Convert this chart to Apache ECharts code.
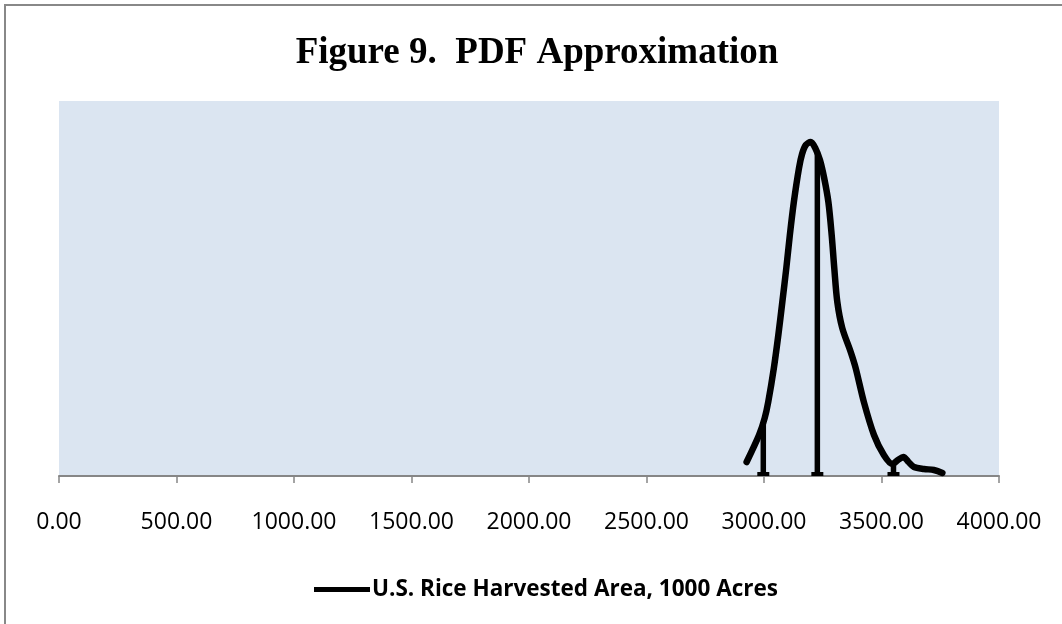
<!DOCTYPE html>
<html>
<head>
<meta charset="utf-8">
<script src="https://cdn.jsdelivr.net/npm/echarts@6/dist/echarts.min.js"></script>
<style>
html,body{margin:0;padding:0;background:#fff;}
#c{width:1062px;height:624px;}
</style>
</head>
<body>
<div id="c"></div>
<script>
// Curve: x values (1000 acres) and density values
const curveX = [2926, 2979, 3003, 3018, 3042, 3061, 3078, 3095, 3110, 3127, 3149, 3162, 3178, 3199, 3218, 3238, 3256, 3274, 3288, 3299, 3312, 3333, 3369, 3390, 3425, 3468, 3510, 3546, 3570, 3593, 3615, 3638, 3681, 3723, 3759];
const curveY = [0.000168, 0.000492, 0.000696, 0.000888, 0.001296, 0.001692, 0.002088, 0.002496, 0.002892, 0.003288, 0.003696, 0.003864, 0.003972, 0.004008, 0.003936, 0.003792, 0.003576, 0.003288, 0.002892, 0.002496, 0.002088, 0.001776, 0.001488, 0.001296, 0.000888, 0.000492, 0.000252, 0.000144, 0.000192, 0.000228, 0.000168, 0.000108, 0.000084, 0.000072, 0.000036];
// Drop lines (x position, height)
const dropX = [2997, 3227, 3551];
const dropY = [0.000636, 0.00388, 0.000168];
const tickMin = 0, tickMax = 4000, tickStep = 500;
const yMax = 0.0045;
const seriesName = 'U.S. Rice Harvested Area, 1000 Acres';
const titleText = 'Figure 9.  PDF Approximation';

const chart = echarts.init(document.getElementById('c'), null, {renderer: 'canvas'});

const curveData = curveX.map((x, i) => [x, curveY[i]]);
const dropSeries = dropX.map((x, i) => ({
  type: 'line',
  name: 'drop' + i,
  data: [
    {value: [x, 0], symbol: 'rect', symbolSize: [12, 4], symbolOffset: [0, -2]},
    {value: [x, dropY[i]], symbol: 'none'}
  ],
  showSymbol: true,
  lineStyle: {color: '#000', width: 5.5},
  itemStyle: {color: '#000'},
  silent: true,
  z: 3
}));

chart.setOption({
  animation: false,
  title: {
    text: titleText,
    left: 532,
    textAlign: 'center',
    top: 30,
    textStyle: {fontFamily: 'Liberation Serif', fontWeight: 'bold', fontSize: 37, color: '#000'}
  },
  graphic: [{
    type: 'rect',
    shape: {x: 5, y: 5, width: 1200, height: 800},
    style: {fill: 'none', stroke: '#888', lineWidth: 2},
    silent: true
  }],
  legend: {
    data: [{name: seriesName, icon: 'rect'}],
    left: 309,
    top: 573,
    itemWidth: 56,
    itemHeight: 5,
    itemGap: 0,
    textStyle: {fontFamily: 'Open Sans', fontWeight: 'bold', fontSize: 22.5, color: '#000', padding: [0, 0, 0, -3]}
  },
  grid: {
    left: 59, right: 63, top: 101, bottom: 148,
    show: true, backgroundColor: '#dbe5f1', borderWidth: 0
  },
  xAxis: {
    type: 'value',
    min: tickMin, max: tickMax, interval: tickStep,
    axisLine: {show: true, lineStyle: {color: '#868686', width: 2}},
    axisTick: {show: true, length: 7, inside: false, lineStyle: {color: '#868686', width: 1.5}},
    splitLine: {show: false},
    axisLabel: {
      margin: 35,
      fontFamily: 'Open Sans', fontSize: 23, color: '#000',
      formatter: v => v.toFixed(2)
    }
  },
  yAxis: {
    type: 'value', min: 0, max: yMax,
    show: false, splitLine: {show: false}
  },
  series: [{
    type: 'line',
    name: seriesName,
    data: curveData,
    smooth: 0.3,
    showSymbol: false,
    symbol: 'none',
    lineStyle: {color: '#000', width: 6.5, cap: 'round', join: 'round'},
    itemStyle: {color: '#000'},
    z: 4
  }].concat(dropSeries)
});
</script>
</body>
</html>
